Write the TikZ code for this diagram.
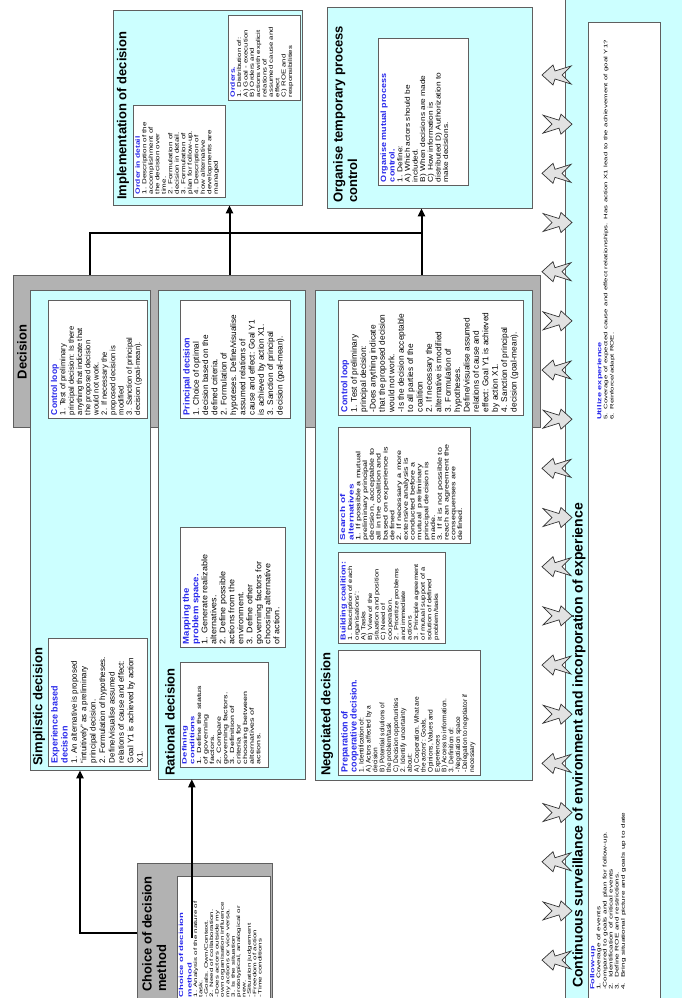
\documentclass[tikz,border=0pt]{standalone}
\usepackage{fontspec}
\setmainfont{Liberation Sans}
\usetikzlibrary{arrows.meta, calc}
\definecolor{boxcyan}{RGB}{204,255,255}
\definecolor{boxgray}{RGB}{178,178,178}
\definecolor{edgegray}{RGB}{95,95,95}
\definecolor{titleblue}{RGB}{40,40,235}
\definecolor{arrowgray}{RGB}{226,226,226}
\tikzset{
  grayframe/.style={rectangle, draw=edgegray, fill=boxgray, line width=0.6pt},
  cyanbox/.style={rectangle, draw=edgegray, fill=boxcyan, line width=0.6pt},
  whitebox/.style={rectangle, draw=edgegray, fill=white, line width=0.6pt,
    rotate=90, inner sep=3pt},
  hdr/.style={rotate=90, inner sep=0pt, font=\bfseries\fontsize{13}{14.5}\selectfont},
  txt/.style={rotate=90, inner sep=0pt, align=left},
  flow/.style={-{Triangle[length=8pt,width=7pt]}, line width=2pt, color=black},
  line/.style={line width=2pt, color=black},
  envarrow/.style={draw=black!80, fill=arrowgray, line width=0.7pt, line join=miter}
}
% blue box title
\newcommand{\bt}[3]{{\fontsize{#1}{#2}\selectfont\bfseries\color{titleblue}#3\par}}
% white text box: name, x, y, length, depth, squeeze, font, text
\newcommand{\wbox}[8]{%
  \pgfmathsetlengthmacro{\bw}{#4-6}%
  \pgfmathsetlengthmacro{\bmh}{#5/#6}%
  \pgfmathsetlengthmacro{\bh}{#5/#6-6}%
  \node[whitebox, yscale=#6, minimum width=#4pt, minimum height=\bmh, font={#7}] (#1) at (#2,#3)
    {\parbox[c][\bh][t]{\bw}{\raggedright #8}};}
\begin{document}
\begin{tikzpicture}[x=1pt, y=-1pt]
  \useasboundingbox (0,0) rectangle (682,998);

  % Continuous surveillance (right strip)
  \node[cyanbox, minimum width=125pt, minimum height=1010pt] (cont) at (627.5,500) {};
  \node[rectangle, draw=edgegray, fill=white, line width=0.6pt,
    minimum width=72pt, minimum height=978pt] (fu) at (624,511) {};
  \node[hdr, anchor=west, font=\bfseries\fontsize{14}{15}\selectfont] (contT) at (579,988)
    {Continuous surveillance of environment and incorporation of experience};
  \node[txt, yscale=0.64, anchor=north west, text width=380pt, font=\fontsize{8.2}{9.5}\selectfont] (fuT) at (590,990)
    {\bt{9.2}{10.5}{Follow-up}1. Coverage of events\\-Compared to goals and plan for follow-up.\\2.\ \ Identification of critical events\\3.\ \ Define ROE and restrictions.\\4.\ \ Bring situational picture and goals up to date};
  \node[txt, yscale=0.64, anchor=north west, text width=420pt, font=\fontsize{7.8}{9.5}\selectfont] (utT) at (597,420)
    {\bt{9.2}{10.5}{Utilize experience}5. Coverage of expected cause and effect relationships. Has action X1 lead to the achievement of goal Y1?\\6. Reinforce/adapt ROE.};

  % Decision
  \node[grayframe, minimum width=527pt, minimum height=152pt] (dec) at (276.5,351) {};
  \node[hdr] (decT) at (22,352) {Decision};

  % Simplistic decision
  \node[cyanbox, minimum width=120pt, minimum height=480pt] (simp) at (90,530) {};
  \node[hdr, anchor=west] (simpT) at (39,766) {Simplistic decision};
  \wbox{sExp}{97.5}{702}{128}{99}{1}{\fontsize{8}{9.4}\selectfont}
    {\bt{9}{10}{Experience based\\decision}1. An alternative is proposed\\``intuitively'' as a preliminary\\principal decision.\\2. Formulation of hypotheses.\\Define/visualise assumed\\relations of cause and effect:\\Goal Y1 is achieved by action\\X1.}
  \wbox{sCtl}{97.5}{359}{118}{99}{1}{\fontsize{7.6}{8.3}\selectfont}
    {\bt{8.5}{9.5}{Control loop}1. Test of preliminary\\principal decision: Is there\\anything that indicate that\\the proposed decision\\would not work.\\2. If necessary the\\proposed decision is\\modified\\3. Sanction of principal\\decision (goal-mean).}

  % Rational decision
  \node[cyanbox, minimum width=147pt, minimum height=489pt] (rat) at (231.5,534.5) {};
  \node[hdr, anchor=west] (ratT) at (170,776) {Rational decision};
  \wbox{rDef}{224}{714.5}{105}{88}{0.66}{\fontsize{9}{10}\selectfont}
    {\bt{9.5}{12}{Defining\\conditions}1. Define the status\\of governing\\factors.\\2. Compare\\governing factors.\\3. Definition of\\criteria for\\choosing between\\alternatives of\\actions.}
  \wbox{rMap}{232.5}{587}{120}{105}{0.9}{\fontsize{9}{10}\selectfont}
    {\bt{9.5}{10.5}{Mapping the\\problem space.}1. Generate realizable\\alternatives.\\2. Define possible\\actions from the\\environment.\\3. Define other\\governing factors for\\choosing alternative\\of action.}
  \wbox{rPri}{235}{359}{118}{110}{1}{\fontsize{8.2}{9.3}\selectfont}
    {\bt{9}{10}{Principal decision}1. Choice of optimal\\decision based on the\\defined criteria.\\2. Formulation of\\hypoteses. Define/visualise\\assumed relations of\\cause and effect: Goal Y1\\is achieved by action X1.\\3. Sanction of principal\\decision (goal-mean).}

  % Negotiated decision
  \node[cyanbox, minimum width=217pt, minimum height=490pt] (neg) at (423.5,535) {};
  \node[hdr, anchor=west] (negT) at (327,776) {Negotiated decision};
  \wbox{nPre}{409}{712.5}{125}{142}{1}{\fontsize{6.6}{6.9}\selectfont}
    {\bt{9}{9.2}{Preparation of\\cooperative decision.}1. Identification of:\\A) Actors affected by a\\decision\\B) Potential solutions of\\the problem/task\\C) Decision opportunities\\2. Identify uncertainty\\about:\\A) Cooperation. What are\\the actors': Goals,\\Opinions, Values and\\Experiences\\B) Access to information.\\3. Definition of:\\-Negotiation space\\-Delegation to negotiator if\\necessary}
  \wbox{nBld}{391.5}{597.5}{91}{107}{0.8}{\fontsize{7.5}{8.25}\selectfont}
    {\bt{9}{10}{Building coalition:}1. Description of each\\organisations':\\A) Tasks\\B) View of the\\situation and position\\C) Need of\\cooperation.\\2. Prioritize problems\\and immediate\\actions\\3. Principle agreement\\of mutual support of a\\solution of defined\\problem/tasks}
  \wbox{nSrc}{404}{485}{116}{132}{0.7}{\fontsize{9}{9.7}\selectfont}
    {\bt{10}{12}{Search of\\alternatives}1. If possible a mutual\\preliminary principal\\decision, acceptable to\\all in the coalition and\\based on experience is\\defined\\2. If necessary a more\\extensive analysis is\\conducted before a\\mutual\ \ preliminary\\principal decision is\\made.\\3. If it is not possible to\\reach an agreement the\\consequenses are\\defined.}
  \wbox{nCtl}{430.5}{357.5}{115}{185}{1}{\fontsize{8.3}{9.4}\selectfont}
    {\bt{8.8}{9.6}{Control loop}1. Test of preliminary\\principal decision:\\-Does anything indicate\\that the proposed decision\\would not work.\\-Is the decision acceptable\\to all parties of the\\coalition\\2. If necessary the\\alternative is modified\\3. Formulation of\\hypotheses.\\Define/visualise assumed\\relations of cause and\\effect: Goal Y1 is achieved\\by action X1.\\4. Sanction of principal\\decision (goal-mean).}

  % Implementation of decision
  \node[cyanbox, minimum width=189pt, minimum height=195pt] (impl) at (207.5,107.5) {};
  \node[hdr, anchor=west] (implT) at (123,200) {Implementation of decision};
  \wbox{iOrd}{179}{151}{92}{92}{0.74}{\fontsize{8}{8.8}\selectfont}
    {\bt{8.5}{10}{Order in detail}1. Description of the\\accomplishment of\\the decision over\\time.\\2. Formulation of\\decision in detail.\\3. Formulation of\\plan for follow-up.\\4. Description of\\how alternative\\developments are\\managed}
  \wbox{iOrs}{264}{57.5}{85}{72}{0.74}{\fontsize{7.8}{8.6}\selectfont}
    {\bt{8.5}{10}{Orders.}1. Distribution of:\\A) Goal - execution\\B) Orders and\\actions with explicit\\relations of\\assumed cause and\\effect\\C) ROE and\\responsibilities}

  % Organise temporary process control
  \node[cyanbox, minimum width=205pt, minimum height=201pt] (org) at (429.5,107.5) {};
  \node[hdr, anchor=north west, align=left] (orgT) at (333,203) {Organise temporary process\\control};
  \wbox{oMut}{423}{111.5}{147}{90}{0.85}{\fontsize{8.3}{9}\selectfont}
    {\bt{9}{10}{Organise mutual process\\control.}1. Define:\\A) Which actors should be\\included.\\B) When decisions are made\\C) How information is\\distributed D) Authorization to\\make decisions.}

  % Choice of decision method
  \node[grayframe, minimum width=135pt, minimum height=140pt] (choice) at (204.5,933) {};
  \node[hdr, anchor=north west, align=left] (choiceT) at (142,992) {Choice of decision\\method};
  \wbox{chin}{223.5}{938}{124}{93}{0.62}{\fontsize{8}{8.7}\selectfont}
    {\bt{9.5}{13.7}{Choice of decision\\method}1. Analysis of the nature of\\task.\\-Goals. Own/Context.\\2. Need of collaboration.\\-Does actors outside my\\own organisation influence\\my actions or vice versa.\\3. Is the situation\\prototypical, analogical or\\new.\\-Situation judgement\\-Freedom of action\\-Time conditions}

  % connectors
  \draw[flow] (choice.west) -| ([xshift=-10pt]simp.south);
  \coordinate (cr) at ([xshift=15pt]chin.north);
  \draw[flow] (cr) -- (cr |- rat.south);
  \coordinate (jl) at (simp.north |- 0,233);
  \coordinate (ia) at ([xshift=22pt]impl.south);
  \coordinate (oa) at ([xshift=-8pt]org.south);
  \draw[line] (jl |- dec.north) -- (jl) -- (oa |- jl);
  \draw[flow] (ia |- dec.north) -- (ia);
  \draw[flow] (oa |- dec.north) -- (oa);

  % exchange arrows with the environment
  \foreach \i in {0,...,18}{
    \pgfmathsetmacro{\yy}{75+49.17*\i}
    \pgfmathsetmacro{\dd}{mod(\i,2)==0 ? 1 : -1}
    \draw[envarrow, shift={(557,\yy)}, xscale=\dd]
      (-15,0) -- (-4,-10) -- (-2,-4) -- (14,-9) -- (5,0) -- (14,9) -- (-2,4) -- (-4,10) -- cycle;
  }
\end{tikzpicture}
\end{document}
